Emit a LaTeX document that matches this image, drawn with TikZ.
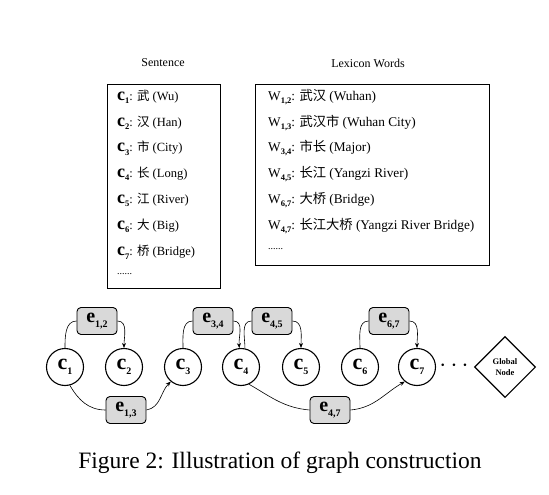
\documentclass[tikz,border=0pt]{standalone}
\usepackage{fontspec}
\setmainfont{Liberation Serif}
\newfontfamily\cjk{Noto Sans CJK SC}
\usetikzlibrary{shapes.geometric,arrows.meta}
\tikzset{
  listbox/.style={draw, line width=0.8pt},
  heading/.style={font=\fontsize{12}{14}\selectfont},
  sitem/.style={anchor=west, inner sep=0pt, font=\fontsize{12.5}{14}\selectfont},
  litem/.style={anchor=west, inner sep=0pt, font=\fontsize{13.3}{15}\selectfont},
  charnode/.style={circle, draw, line width=1.1pt, minimum size=37pt, inner sep=0pt, font=\fontsize{22}{22}\selectfont\bfseries},
  edgenode/.style={rectangle, rounded corners=4pt, draw, line width=0.9pt, fill=gray!30, minimum width=40pt, minimum height=27pt, inner sep=0pt, font=\fontsize{20}{20}\selectfont\bfseries},
  globalnode/.style={diamond, draw, line width=1.1pt, minimum width=61pt, minimum height=61pt, inner sep=0pt, align=center, font=\fontsize{8.5}{10.5}\selectfont\bfseries},
  conn/.style={line width=0.6pt},
  arr/.style={line width=0.6pt, -{Stealth[length=5pt,width=4pt]}}
}
\newcommand{\lsub}[1]{\raisebox{-3.5pt}{\fontsize{8.5}{8.5}\selectfont\bfseries #1}}
\newcommand{\nsub}[1]{\raisebox{-5pt}{\fontsize{10}{10}\selectfont #1}}
\newcommand{\cc}[1]{{\fontsize{18}{16}\selectfont\bfseries c}\lsub{#1}}
\newcommand{\ww}[1]{W\lsub{#1}}
\begin{document}
\begin{tikzpicture}[x=1pt, y=-1pt]
\useasboundingbox (0,0) rectangle (549,495);
% headings
\node[heading] (hs) at (163,63) {Sentence};
\node[heading] (hl) at (368,63) {Lexicon Words};
% boxes
\draw[listbox] (107,84) rectangle (220,288);
\draw[listbox] (255,84) rectangle (489,265);
% sentence items
\node[sitem] (s1) at (117,97) {\cc{1}: {\cjk 武} (Wu)};
\node[sitem] (s2) at (117,123) {\cc{2}: {\cjk 汉} (Han)};
\node[sitem] (s3) at (117,148) {\cc{3}: {\cjk 市} (City)};
\node[sitem] (s4) at (117,174) {\cc{4}: {\cjk 长} (Long)};
\node[sitem] (s5) at (117,200) {\cc{5}: {\cjk 江} (River)};
\node[sitem] (s6) at (117,226) {\cc{6}: {\cjk 大} (Big)};
\node[sitem] (s7) at (117,252) {\cc{7}: {\cjk 桥} (Bridge)};
\node[sitem] (s8) at (117,274) {\fontsize{10}{10}\selectfont ......};
% lexicon items
\node[litem] (l1) at (268,97) {\ww{1,2}: {\cjk 武汉} (Wuhan)};
\node[litem] (l2) at (268,123) {\ww{1,3}: {\cjk 武汉市} (Wuhan City)};
\node[litem] (l3) at (268,148) {\ww{3,4}: {\cjk 市长} (Major)};
\node[litem] (l4) at (268,174) {\ww{4,5}: {\cjk 长江} (Yangzi River)};
\node[litem] (l5) at (268,200) {\ww{6,7}: {\cjk 大桥} (Bridge)};
\node[litem] (l6) at (268,226) {\ww{4,7}: {\cjk 长江大桥} (Yangzi River Bridge)};
\node[litem] (l7) at (268,249) {\fontsize{10}{10}\selectfont ......};
% graph nodes
\node[charnode] (c1) at (65,367) {c\nsub{1}};
\node[charnode] (c2) at (124,367) {c\nsub{2}};
\node[charnode] (c3) at (183,367) {c\nsub{3}};
\node[charnode] (c4) at (241,367) {c\nsub{4}};
\node[charnode] (c5) at (301,367) {c\nsub{5}};
\node[charnode] (c6) at (360,367) {c\nsub{6}};
\node[charnode] (c7) at (417,367) {c\nsub{7}};
\node[font=\fontsize{24}{24}\selectfont] (dots) at (454,366) {$\cdots$};
\node[globalnode] (g) at (505,367) {Global\\Node};
% edge nodes
\node[edgenode] (e12) at (97,321) {e\nsub{1,2}};
\node[edgenode] (e34) at (213,321) {e\nsub{3,4}};
\node[edgenode] (e45) at (272,321) {e\nsub{4,5}};
\node[edgenode] (e67) at (389,321) {e\nsub{6,7}};
\node[edgenode] (e13) at (126,410) {e\nsub{1,3}};
\node[edgenode] (e47) at (330,410) {e\nsub{4,7}};
% connectors
\draw[conn] (c1.north) to[out=90,in=180] (e12.west);
\draw[arr] (e12.east) to[out=0,in=90] (c2.north);
\draw[conn] (c3.north) to[out=90,in=180] (e34.west);
\draw[arr] (e34.east) to[out=0,in=95] (c4.95);
\draw[conn] (c4.78) to[out=90,in=180] (e45.west);
\draw[arr] (e45.east) to[out=0,in=90] (c5.north);
\draw[conn] (c6.north) to[out=90,in=180] (e67.west);
\draw[arr] (e67.east) to[out=0,in=90] (c7.north);
\draw[conn] (c1.-75) to[out=-60,in=180] (e13.west);
\draw[arr] (e13.east) to[out=10,in=-135] (c3.-130);
\draw[conn] (c4.-65) to[out=-30,in=175] (e47.west);
\draw[arr] (e47.east) to[out=5,in=-150] (c7.-130);
% caption
\node[font=\fontsize{23.5}{26}\selectfont] (cap) at (280,463) {Figure 2: Illustration of graph construction};
\end{tikzpicture}
\end{document}
